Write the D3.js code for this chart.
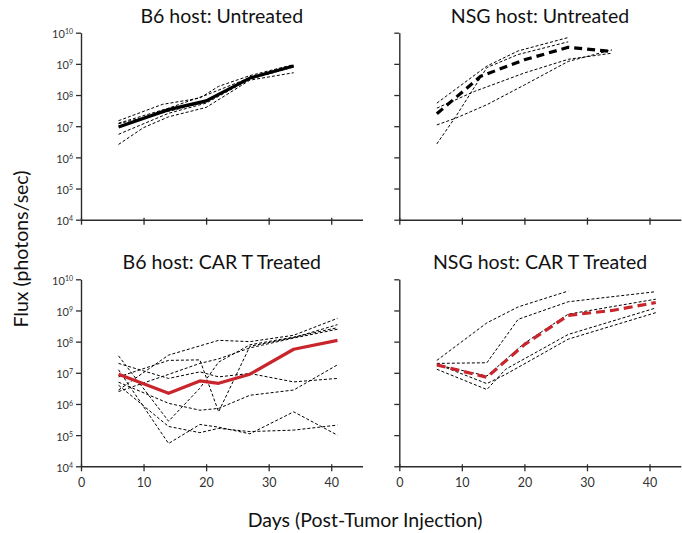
<!DOCTYPE html>
<html><head><meta charset="utf-8">
<script src="https://cdn.jsdelivr.net/npm/d3@7"></script>
<style>body{margin:0;background:#fff}svg{display:block}</style>
</head><body><svg id="c" width="682" height="533"></svg>
<script>
// ---------- data ----------
const xTicks = [0, 10, 20, 30, 40];
const yTicks = [1e4, 1e5, 1e6, 1e7, 1e8, 1e9, 1e10];
const panelTitles = ["B6 host: Untreated", "NSG host: Untreated", "B6 host: CAR T Treated", "NSG host: CAR T Treated"];

// B6 host: Untreated
const b6UntrMeanDays = [6, 14, 20, 27, 34];
const b6UntrMean = [9.5e6, 3.4e7, 6.5e7, 3.5e8, 8.5e8];
const b6UntrMice = [
  {days: [6, 13, 19, 22, 27, 34], flux: [1.5e7, 5e7, 8e7, 1.9e8, 4.2e8, 9.5e8]},
  {days: [6, 14, 20, 27, 34], flux: [1.25e7, 3.8e7, 1.0e8, 3.6e8, 8.8e8]},
  {days: [6, 14, 20, 27, 34], flux: [5.5e6, 2.6e7, 5.5e7, 3.2e8, 8e8]},
  {days: [6, 10, 14, 20, 27, 34], flux: [2.6e6, 9e6, 2e7, 4e7, 3e8, 5.2e8]},
  {days: [6, 14, 20, 27, 34], flux: [1.2e7, 3e7, 6e7, 3.8e8, 8.5e8]}
];

// NSG host: Untreated
const nsgUntrMeanDays = [6, 13, 20, 27, 34];
const nsgUntrMean = [2.5e7, 4e8, 1.35e9, 3.4e9, 2.5e9];
const nsgUntrMice = [
  {days: [6, 14, 19, 27], flux: [5.5e7, 8.5e8, 2.6e9, 7e9]},
  {days: [6, 9, 14, 19, 27], flux: [2.7e6, 2e7, 7.6e8, 2e9, 5.1e9]},
  {days: [6, 12, 20, 27, 34], flux: [3.8e7, 1.3e8, 5.1e8, 1.4e9, 2.2e9]},
  {days: [6, 9, 14, 20, 27, 34], flux: [1.1e7, 1.8e7, 4.9e7, 2.1e8, 1.2e9, 2.8e9]}
];

// B6 host: CAR T Treated
const b6CarMeanDays = [6, 14, 19, 22, 27, 34, 41];
const b6CarMean = [9e6, 2.2e6, 5.5e6, 4.6e6, 9e6, 5.7e7, 1.1e8];
const b6CarMice = [
  {days: [6, 14, 22, 27, 34, 41], flux: [2.8e6, 3.7e7, 1.1e8, 1.0e8, 1.6e8, 5.6e8]},
  {days: [6, 14, 19, 22, 27, 34, 41], flux: [7.4e6, 2.5e7, 2.6e7, 5.6e5, 7.1e7, 1.35e8, 3.5e8]},
  {days: [6, 14, 19, 22, 27, 34, 41], flux: [3.5e7, 2.8e5, 3.2e6, 2.2e7, 7.9e7, 1.4e8, 2.8e8]},
  {days: [6, 14, 19, 22, 27, 34, 41], flux: [5e6, 1.05e6, 6.3e5, 7.2e5, 1.9e6, 2.8e6, 1.8e7]},
  {days: [6, 14, 19, 22, 27, 34, 41], flux: [2e7, 6.6e6, 1.07e7, 7.4e6, 9.5e6, 5.1e6, 6.6e6]},
  {days: [6, 14, 19, 22, 27, 34, 41], flux: [4e6, 1.9e5, 1.2e5, 1.65e5, 1.3e5, 1.45e5, 2.1e5]},
  {days: [6, 14, 19, 22, 27, 34, 41], flux: [1.25e7, 5.4e4, 2.2e5, 1.8e5, 1.1e5, 5.6e5, 1e5]},
  {days: [6, 14, 19, 22, 27, 34, 41], flux: [2.5e6, 8.9e6, 2e7, 2.8e7, 6.3e7, 1.3e8, 2.5e8]}
];

// NSG host: CAR T Treated
const nsgCarMeanDays = [6, 14, 20, 27, 34, 41];
const nsgCarMean = [1.8e7, 7.2e6, 8e7, 7e8, 1e9, 1.8e9];
const nsgCarMice = [
  {days: [6, 14, 19, 27], flux: [2.5e7, 4e8, 1.3e9, 4.2e9]},
  {days: [6, 14, 19, 27, 41], flux: [2e7, 2.1e7, 5.2e8, 1.9e9, 4e9]},
  {days: [6, 14, 17, 27, 41], flux: [1.3e7, 2.9e6, 1.3e7, 1.7e8, 1.2e9]},
  {days: [6, 14, 17, 27, 41], flux: [1.9e7, 4.5e6, 8.9e6, 1.2e8, 8.5e8]},
  {days: [6, 14, 20, 27, 41], flux: [1.8e7, 7.9e6, 8.9e7, 7.6e8, 2.3e9]}
];

// ---------- layout ----------
const FONT = "Lato, 'Open Sans', sans-serif";
const RED = "#c9252c";
const AX = "#2b2b2b";
const panels = [
  {title: panelTitles[0], left: 81, top: 32.7, yLabels: true, xLabels: false,
   mice: b6UntrMice, meanDays: b6UntrMeanDays, mean: b6UntrMean, color: "#000", dash: null},
  {title: panelTitles[1], left: 399.3, top: 32.7, yLabels: false, xLabels: false,
   mice: nsgUntrMice, meanDays: nsgUntrMeanDays, mean: nsgUntrMean, color: "#000", dash: "8,5"},
  {title: panelTitles[2], left: 81, top: 279.3, yLabels: true, xLabels: true,
   mice: b6CarMice, meanDays: b6CarMeanDays, mean: b6CarMean, color: RED, dash: null},
  {title: panelTitles[3], left: 399.3, top: 279.3, yLabels: false, xLabels: true,
   mice: nsgCarMice, meanDays: nsgCarMeanDays, mean: nsgCarMean, color: RED, dash: "9,5"}
];
const PW = 281.5, PH = 187;

const svg = d3.select("#c");

panels.forEach(p => {
  const x = d3.scaleLinear().domain([0, 45]).range([p.left, p.left + PW]);
  const y = d3.scaleLog().domain([1e4, 1e10]).range([p.top + PH, p.top]);
  const g = svg.append("g");

  // title
  g.append("text").attr("x", p.left + PW / 2).attr("y", p.top - 10)
    .attr("text-anchor", "middle").attr("font-family", FONT).attr("font-size", 19.5)
    .attr("fill", "#111").text(p.title);

  // y axis
  const ya = g.append("g").attr("transform", `translate(${p.left},0)`)
    .call(d3.axisLeft(y).tickValues(yTicks).tickSize(5).tickSizeOuter(0).tickFormat(() => ""));
  ya.select(".domain").attr("stroke", AX).attr("stroke-width", 1.4);
  ya.selectAll(".tick line").attr("stroke", AX).attr("stroke-width", 1.3);
  if (p.yLabels) {
    ya.selectAll(".tick text").each(function (d) {
      const t = d3.select(this).attr("x", -8).attr("font-family", FONT)
        .attr("font-size", 11).attr("fill", "#333").attr("dy", "0.45em");
      t.append("tspan").text("10");
      t.append("tspan").attr("dy", "-0.55em").attr("font-size", 7).text(Math.round(Math.log10(d)));
    });
  }

  // x axis
  const xa = g.append("g").attr("transform", `translate(0,${p.top + PH})`)
    .call(d3.axisBottom(x).tickValues(xTicks).tickSize(5).tickSizeOuter(0)
      .tickFormat(p.xLabels ? d3.format("d") : () => ""));
  xa.select(".domain").attr("stroke", AX).attr("stroke-width", 1.4);
  xa.selectAll(".tick line").attr("stroke", AX).attr("stroke-width", 1.3).attr("y1", -2);
  xa.selectAll(".tick text").attr("font-family", FONT).attr("font-size", 12.5)
    .attr("fill", "#333").attr("dy", "1.0em");

  const line = d3.line().x(d => x(d[0])).y(d => y(d[1]));

  // individual mice
  p.mice.forEach(m => {
    g.append("path").datum(d3.zip(m.days, m.flux)).attr("d", line)
      .attr("fill", "none").attr("stroke", "#000").attr("stroke-width", 1)
      .attr("stroke-dasharray", "3,2");
  });
  // mean
  g.append("path").datum(d3.zip(p.meanDays, p.mean)).attr("d", line)
    .attr("fill", "none").attr("stroke", p.color).attr("stroke-width", 3.2)
    .attr("stroke-linejoin", "round")
    .attr("stroke-dasharray", p.dash);
});

// axis titles
svg.append("text").attr("transform", "translate(28,249) rotate(-90)")
  .attr("text-anchor", "middle").attr("font-family", FONT).attr("font-size", 19.5)
  .attr("fill", "#111").text("Flux (photons/sec)");
svg.append("text").attr("x", 365).attr("y", 527)
  .attr("text-anchor", "middle").attr("font-family", FONT).attr("font-size", 19.5)
  .attr("fill", "#111").text("Days (Post-Tumor Injection)");
</script></body></html>
